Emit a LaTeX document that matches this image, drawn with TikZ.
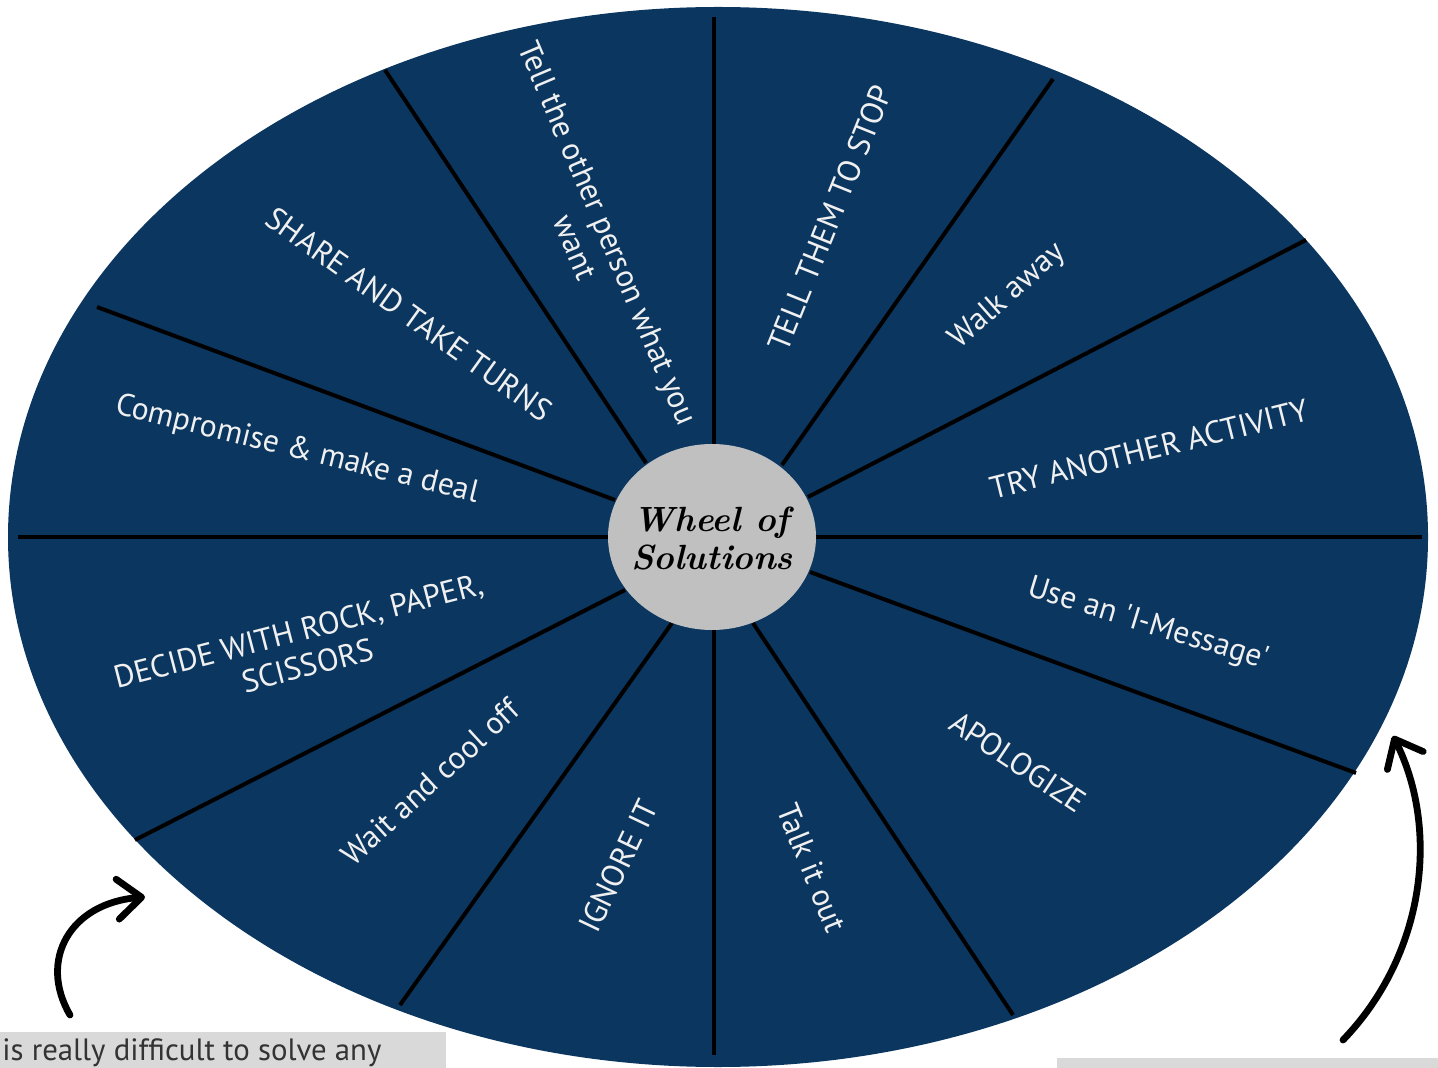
\documentclass[tikz,border=0pt]{standalone}
\usepackage{fontspec}
\newfontfamily\labelfont{PT Sans}
\usetikzlibrary{shapes.geometric,arrows.meta}
\definecolor{wheel}{HTML}{0A365F}
\definecolor{hub}{HTML}{C0C0C0}
\definecolor{boxgray}{HTML}{D9D9D9}
\definecolor{capt}{HTML}{333333}
\tikzset{
  lbl/.style={text=white!94!black, font=\labelfont\fontsize{15.8}{18}\selectfont, align=center, inner sep=0pt},
  spoke/.style={line width=2pt, black},
  curvearrow/.style={line width=3.4pt, line cap=round, -{Straight Barb[length=12pt,width=20pt,line width=3.4pt,round]}},
}
\begin{document}
\begin{tikzpicture}[x=0.5pt,y=-0.5pt]
\useasboundingbox (0,0) rectangle (1438,1068);
\begin{scope}
\clip (0,0) rectangle (1438,1068);
% wheel body
\fill[wheel] (718,537) ellipse [x radius=710, y radius=530];
% grey caption boxes
\fill[boxgray] (0,1032) rectangle (446,1075);
\fill[boxgray] (1057,1058) rectangle (1438,1075);
\node[anchor=base west, inner sep=0pt, text=capt, font=\labelfont\fontsize{15.4}{18}\selectfont] (cap) at (2,1060) {is really difficult to solve any};
\end{scope}
% spoke coordinates
\coordinate (i1) at (646,463);  \coordinate (o1) at (385,70);
\coordinate (i2) at (714,444);  \coordinate (o2) at (714,17);
\coordinate (i3) at (782,465);  \coordinate (o3) at (1053,79);
\coordinate (i4) at (808,497);  \coordinate (o4) at (1306,240);
\coordinate (i5) at (816,537);  \coordinate (o5) at (1422,537);
\coordinate (i6) at (810,572);  \coordinate (o6) at (1356,773);
\coordinate (i7) at (753,623);  \coordinate (o7) at (1013,1015);
\coordinate (i8) at (714,630);  \coordinate (o8) at (714,1055);
\coordinate (i9) at (672,623);  \coordinate (o9) at (400,1005);
\coordinate (i10) at (625,590); \coordinate (o10) at (135,840);
\coordinate (i11) at (608,537); \coordinate (o11) at (18,537);
\coordinate (i12) at (615,500); \coordinate (o12) at (97,307);
\foreach \k in {1,...,12} { \draw[spoke] (i\k) -- (o\k); }
% hub
\node[ellipse, fill=hub, minimum width=104pt, minimum height=93pt, inner sep=0pt] (hubnode) at (712,537) {};
\node[align=center, font=\bfseries\itshape\fontsize{17.5}{19}\selectfont] (title) at (712,539) {Wheel of\\Solutions};
% labels
\node[lbl, rotate=-67]   (l1)  at (592,240) {Tell the other person what you\\want};
\node[lbl, rotate=68]    (l2)  at (830,218) {TELL THEM TO STOP};
\node[lbl, rotate=41.5]  (l3)  at (1008,296) {Walk away};
\node[lbl, rotate=14]    (l4)  at (1149,449) {TRY ANOTHER ACTIVITY};
\node[lbl, rotate=-17]   (l5)  at (1148,625) {Use an 'I-Message'};
\node[lbl, rotate=-33.6] (l6)  at (1018,762) {APOLOGIZE};
\node[lbl, rotate=-68]   (l7)  at (812,868) {Talk it out};
\node[lbl, rotate=64.5]  (l8)  at (618,866) {IGNORE IT};
\node[lbl, rotate=42.4]  (l9)  at (430,782) {Wait and cool off};
\node[lbl, rotate=14.5]  (l10) at (303,648) {DECIDE WITH ROCK, PAPER,\\SCISSORS};
\node[lbl, rotate=-13.9] (l11) at (297,450) {Compromise \& make a deal};
\node[lbl, rotate=-35.6] (l12) at (409,314) {SHARE AND TAKE TURNS};
% curved arrows
\coordinate (a1s) at (70,1015);
\coordinate (a1e) at (145,897);
\draw[curvearrow] (a1s) .. controls (38,960) and (70,903) .. (a1e);
\coordinate (a2s) at (1343,1040);
\coordinate (a2e) at (1393,736);
\draw[curvearrow] (a2s) .. controls (1425,955) and (1440,830) .. (a2e);
\end{tikzpicture}
\end{document}
